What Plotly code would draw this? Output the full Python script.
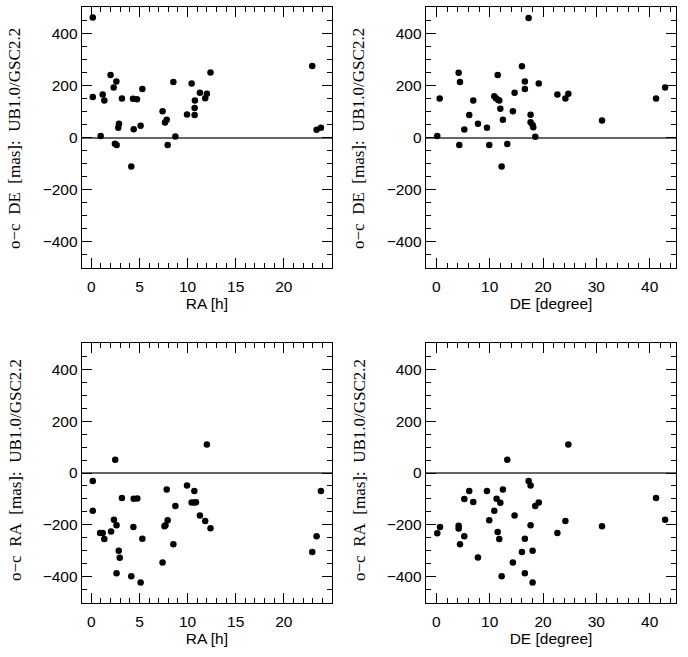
import plotly.graph_objects as go

# Panel 1: RA [h] vs o-c DE
ra_p1 = [0.15, 0.15, 0.97, 1.18, 1.35, 2.0, 2.32, 2.6, 2.45, 2.63, 2.87, 2.8, 3.18, 4.15, 4.33, 4.74, 4.4,
         5.12, 5.3, 7.4, 7.65, 7.83, 7.93, 8.52, 8.73, 9.94, 10.42, 10.73, 10.73, 10.76, 11.28, 11.83, 12.0,
         12.38, 22.95, 23.4, 23.85]
dde_p1 = [461, 156, 6, 165, 142, 240, 192, 215, -24, -29, 53, 37, 150, -111, 149, 147, 32,
          45, 186, 101, 58, 68, -29, 213, 4, 88, 207, 113, 86, 142, 172, 151, 168,
          250, 275, 30, 37]

# Panel 2: DE [degree] vs o-c DE
de_p2 = [0.17, 0.62, 4.18, 4.43, 4.3, 5.24, 6.17, 6.92, 7.8, 9.49, 9.92, 10.86, 11.18, 11.56, 11.8, 11.5,
         12.0, 12.24, 12.48, 13.3, 14.35, 14.67, 16.05, 16.6, 16.6, 17.3, 17.67, 17.67, 18.05, 18.17,
         18.55, 19.2, 22.7, 24.2, 24.75, 31.07, 41.2, 42.9]
dde_p2 = [6, 150, 249, 213, -29, 31, 86, 142, 53, 37, -29, 158, 151, 145, 142, 240,
          110, -111, 68, -25, 101, 172, 274, 215, 186, 459, 87, 59, 48, 39,
          3, 207, 165, 150, 168, 65, 150, 192]

# Panel 3: RA [h] vs o-c RA
ra_p3 = [0.15, 0.15, 0.91, 1.18, 1.35, 2.05, 2.35, 2.48, 2.62, 2.62, 2.85, 2.95, 3.18, 4.15, 4.37, 4.4,
         4.78, 5.12, 5.3, 7.4, 7.6, 7.7, 7.83, 7.93, 8.52, 8.73, 9.94, 10.42, 10.7, 10.7, 10.87, 11.28,
         11.83, 12.0, 12.38, 22.95, 23.4, 23.85]
dra_p3 = [-31, -146, -231, -231, -254, -226, -180, 51, -201, -386, -300, -327, -96, -398, -208, -99,
          -98, -422, -253, -345, -205, -201, -64, -182, -275, -127, -48, -114, -69, -114, -113, -164,
          -185, 110, -213, -305, -244, -69]

# Panel 4: DE [degree] vs o-c RA
de_p4 = [0.17, 0.68, 4.18, 4.18, 4.43, 5.24, 5.24, 6.17, 6.92, 7.8, 9.49, 9.92, 10.86, 11.3, 11.5, 11.8,
         12.0, 12.24, 12.48, 13.3, 14.35, 14.67, 16.05, 16.6, 16.6, 17.3, 17.67, 17.67, 18.05, 18.05,
         18.55, 19.2, 22.7, 24.2, 24.75, 31.07, 41.2, 42.9]
dra_p4 = [-232, -208, -203, -214, -275, -100, -244, -69, -112, -326, -69, -182, -146, -99, -227, -254,
          -115, -398, -64, 51, -345, -164, -305, -253, -386, -31, -48, -201, -422, -300,
          -127, -114, -231, -185, 110, -205, -96, -180]

ra_ticks = [0, 5, 10, 15, 20]
de_ticks = [0, 10, 20, 30, 40]
y_ticks = [-400, -200, 0, 200, 400]

W, H = 688, 657
xdom_l = [81.7 / W, 332 / W]
xdom_r = [425.7 / W, 676.3 / W]
ydom_t = [1 - 267.7 / H, 1 - 7.3 / H]
ydom_b = [1 - 602.7 / H, 1 - 343.3 / H]

panels = [
    (ra_p1, dde_p1, "x", "y", xdom_l, ydom_t, "RA [h]", [-1, 25], ra_ticks, 1),
    (de_p2, dde_p2, "x2", "y2", xdom_r, ydom_t, "DE [degree]", [-2, 45], de_ticks, 2),
    (ra_p3, dra_p3, "x3", "y3", xdom_l, ydom_b, "RA [h]", [-1, 25], ra_ticks, 1),
    (de_p4, dra_p4, "x4", "y4", xdom_r, ydom_b, "DE [degree]", [-2, 45], de_ticks, 2),
]
sp = "\u00a0\u00a0"
ytitles = ["o\u2212c" + sp + "DE" + sp + "[mas]:" + sp + "UB1.0/GSC2.2"] * 2 + \
          ["o\u2212c" + sp + "RA" + sp + "[mas]:" + sp + "UB1.0/GSC2.2"] * 2

fig = go.Figure()
tickfont = dict(family="Liberation Sans, Arial, sans-serif", size=15.5, color="black")
layout = dict(width=W, height=H, margin=dict(l=0, r=0, t=0, b=0),
              paper_bgcolor="white", plot_bgcolor="white", showlegend=False)

for i, (xs, ys, xa, ya, xd, yd, xt, xr, tv, mdt) in enumerate(panels):
    fig.add_trace(go.Scatter(x=xs, y=ys, xaxis=xa, yaxis=ya, mode="markers",
                             marker=dict(color="black", size=6.5), hoverinfo="skip"))
    xkey = "xaxis" if xa == "x" else "xaxis" + xa[1:]
    ykey = "yaxis" if ya == "y" else "yaxis" + ya[1:]
    layout[xkey] = dict(domain=xd, anchor=ya, range=xr, tickmode="array", tickvals=tv,
                        showgrid=False, zeroline=False, showline=True, linecolor="black",
                        linewidth=1, mirror="ticks", ticks="inside", ticklen=10, tickcolor="black",
                        minor=dict(dtick=mdt, tick0=0, ticks="inside", ticklen=5, tickcolor="black",
                                   showgrid=False),
                        tickfont=tickfont, ticklabelstandoff=5,
                        title=dict(text=xt, font=tickfont, standoff=0))
    layout[ykey] = dict(domain=yd, anchor=xa, range=[-500, 500], tickmode="array", tickvals=y_ticks,
                        showgrid=False, zeroline=True, zerolinecolor="#666666", zerolinewidth=2,
                        showline=True, linecolor="black",
                        linewidth=1, mirror="ticks", ticks="inside", ticklen=10, tickcolor="black",
                        minor=dict(dtick=50, tick0=0, ticks="inside", ticklen=5, tickcolor="black",
                                   showgrid=False),
                        tickfont=tickfont)

fig.update_layout(**layout)

annots = []
centers = [(15, 139), (359, 139), (15, 470), (359, 470)]
for (cx, cy), t in zip(centers, ytitles):
    annots.append(dict(text=t, x=cx / W, y=1 - cy / H, xref="paper", yref="paper",
                       showarrow=False, textangle=-90, xanchor="center", yanchor="middle",
                       font=dict(family="Liberation Serif, DejaVu Serif, serif", size=17, color="black")))
fig.update_layout(annotations=annots)

fig.write_html("out.html")
